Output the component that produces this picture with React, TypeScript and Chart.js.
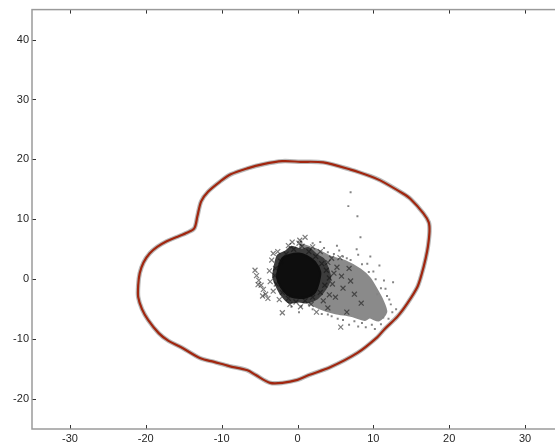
import React, { useEffect, useRef } from "react";
import { Chart, registerables } from "chart.js";
Chart.register(...registerables);

const xTicks = [-30, -20, -10, 0, 10, 20, 30];
const yTicks = [-20, -10, 0, 10, 20, 30, 40];

// closed outline (traced clockwise from the top)
const contourPoints: [number, number][] = [
  [0.4, 19.6], [3.4, 19.5], [7, 18.3], [9.6, 17.2], [10.9, 16.5], [13.9, 14.3], [14.9, 13.4],
  [16.6, 11], [17.3, 9.5], [17.4, 8], [17.2, 5.5], [16.9, 3.5], [16.4, 1.0], [15.8, -1.3],
  [14.5, -4], [13.2, -6.2], [11.5, -8.3], [10.5, -9.7], [7.9, -12.3], [4.3, -14.7], [1.5, -16],
  [0, -16.8], [-2, -17.3], [-3.6, -17.3], [-5.5, -16], [-6.6, -15.2], [-9, -14.5], [-11, -13.8],
  [-12.8, -13.2], [-15.4, -11.3], [-17, -10.3], [-18.3, -9], [-19.7, -6.8], [-20.5, -5],
  [-21, -3], [-21, -1], [-20.8, 1], [-20.3, 2.8], [-19.5, 4.3], [-18.5, 5.4], [-17.3, 6.3],
  [-16, 7.0], [-14.5, 7.8], [-13.6, 8.5], [-13.2, 10.5], [-12.7, 13], [-11.8, 14.6],
  [-10.2, 16.3], [-8.8, 17.5], [-6.6, 18.5], [-4.5, 19.2], [-2, 19.7], [0.4, 19.6],
];

// dense grey cloud outline
const greyCloud: [number, number][] = [
  [0.4, 5.9], [2.4, 5.0], [4.3, 3.8], [6.3, 3.0], [8.3, 1.6], [9.5, 0.2], [10.3, -1.4],
  [11.2, -3.5], [11.7, -5.5], [10.7, -6.9], [9.5, -6.4], [8.9, -6.8], [7, -6.1], [5, -5.7],
  [3, -4.9], [1.1, -3.6], [-0.3, -1.8], [0.4, 5.9],
];

// dark halo and black core outlines
const darkHalo: [number, number][] = [
  [-3.0, 2.3], [-2.6, 4.0], [-1.6, 4.6], [-0.8, 5.4], [0.6, 4.9], [1.4, 5.2], [2.6, 4.0],
  [3.4, 3.4], [4.0, 1.8], [4.3, 0.2], [3.7, -1.6], [2.6, -3.2], [1.2, -3.9], [0.2, -3.7],
  [-1.1, -3.9], [-1.9, -3.0], [-2.6, -1.6], [-3.2, 0.4], [-3.0, 2.3],
];
const blackCore: [number, number][] = [
  [-2.5, 2.0], [-2.0, 3.5], [-1.0, 4.1], [0.2, 4.3], [1.2, 3.9], [2.3, 2.9], [3.0, 1.2],
  [2.8, -0.6], [2.3, -2.2], [1.2, -3.0], [0.0, -3.1], [-1.3, -2.6], [-2.2, -1.3],
  [-2.7, 0.3], [-2.5, 2.0],
];

// scattered grey points
const greyPoints: [number, number][] = [
  [0.5, 6.3], [2, 6], [3.5, 5.2], [4.8, 4.2], [6, 3.8], [7, 3.2], [8.5, 2.5], [9.4, 1.2],
  [10.3, 0], [11, -1.5], [11.8, -2.8], [12.3, -4.2], [12.5, -5.5], [12, -6.6], [11, -7.5],
  [9.8, -7.6], [8.5, -7.3], [7.5, -7], [6, -6.8], [4.5, -6.2], [3.2, -5.8], [2, -5],
  [0.5, -4.5], [7, 14.5], [6.7, 12.2], [7.9, 10.5], [8.3, 7], [7.8, 5], [9.6, 3.8],
  [10.8, 2.3], [12.6, -0.5], [5.5, 4.8], [9, -8], [10.5, -2.5], [6.5, 3.5], [4, 4.5],
  [3, 6.2], [5.2, 5.6], [8, 4.1], [9.2, 2.6], [10, 1.3], [11.4, -0.2], [11.6, -1.6],
  [12.1, -3.4], [13, -5], [11.3, -6.4], [10.2, -8.3], [8, -7.9], [6.8, -7.6], [5.3, -6.6],
  [4, -5.9], [1.5, -4.3], [0.2, -5.5], [-0.8, -4.6],
];

// black cross markers
const crossPoints: [number, number][] = [
  [-2.2, 3], [-1.5, 4.2], [-0.5, 5], [0.6, 5.5], [1.5, 4.6], [2.4, 3.8], [3.2, 2.6],
  [3.8, 1.5], [4.2, 0.2], [3.6, -1], [3, -2.2], [2, -3], [1, -3.6], [-0.2, -3.8],
  [-1.2, -3.2], [-2, -2.2], [-2.8, -0.8], [-3, 0.6], [-2.9, 1.8], [-3.4, 3.2],
  [-2.6, 4.6], [-1.2, 5.6], [0.2, 6.0], [2.0, 5.4], [3.0, 4.6], [4.0, 2.8], [4.8, 1.0],
  [4.6, -0.8], [4.2, -2.6], [3.4, -3.6], [1.8, -4.2], [0.4, -4.6], [-1.0, -4.2],
  [-2.4, -3.4], [-3.2, -2.0], [-3.6, -0.4], [-3.7, 1.4], [-0.7, 6.2], [1, 7], [0.3, 6.5],
  [-3.2, 4.3], [4.5, 3.5], [5.2, 2], [5.8, 0.5], [6, -1.5], [5, -3], [4, -4.8],
  [7.5, -2.5], [8.4, -4], [-2, -5.6], [2.5, -5.5], [6.5, -5.5], [5.7, -8], [6.8, 1.8],
  [5.6, 3.6], [7, -0.3],
  [-5.6, 1.5], [-5.4, 0.6], [-5.1, -0.2], [-4.8, -1], [-4.5, -1.7], [-4.2, -2.5],
  [-3.9, -3.2], [-5.2, -0.9], [-4.6, -2.8],
];

const toXY = (a: [number, number][]) => a.map(([x, y]) => ({ x, y }));

const framePlugin = {
  id: "frame",
  afterDatasetsDraw(chart: any) {
    const { ctx, chartArea: a, scales } = chart;
    ctx.save();
    ctx.strokeStyle = "#333";
    ctx.lineWidth = 1;
    const tl = 4;
    ctx.beginPath();
    for (const v of xTicks) {
      const px = Math.round(scales.x.getPixelForValue(v)) + 0.5;
      ctx.moveTo(px, a.bottom);
      ctx.lineTo(px, a.bottom - tl);
      ctx.moveTo(px, a.top);
      ctx.lineTo(px, a.top + tl);
    }
    for (const v of yTicks) {
      const py = Math.round(scales.y.getPixelForValue(v)) + 0.5;
      ctx.moveTo(a.left, py);
      ctx.lineTo(a.left + tl, py);
      ctx.moveTo(a.right, py);
      ctx.lineTo(a.right - tl, py);
    }
    ctx.stroke();
    ctx.strokeStyle = "#9a9a9a";
    ctx.lineWidth = 1.5;
    ctx.strokeRect(a.left, a.top, a.right - a.left, a.bottom - a.top);
    ctx.restore();
  },
};

export default function App() {
  const ref = useRef<HTMLCanvasElement>(null);
  useEffect(() => {
    const chart = new Chart(ref.current!, {
      type: "scatter",
      data: {
        datasets: [
          {
            data: toXY(crossPoints),
            pointStyle: "crossRot",
            pointRadius: 3.5,
            borderColor: "rgba(15,15,15,0.55)",
            borderWidth: 1.2,
            order: 1,
          } as any,
          {
            data: toXY(blackCore),
            showLine: true,
            tension: 0.25,
            fill: "shape",
            backgroundColor: "#0e0e0e",
            borderColor: "#0e0e0e",
            borderWidth: 2,
            pointRadius: 0,
            order: 2,
          },
          {
            data: toXY(darkHalo),
            showLine: true,
            tension: 0.25,
            fill: "shape",
            backgroundColor: "#3c3c3c",
            borderColor: "#3c3c3c",
            borderWidth: 2,
            pointRadius: 0,
            order: 3,
          },
          {
            data: toXY(greyPoints),
            pointStyle: "rect",
            pointRadius: 1.4,
            backgroundColor: "#848484",
            borderColor: "#848484",
            borderWidth: 0,
            order: 4,
          },
          {
            data: toXY(greyCloud),
            showLine: true,
            tension: 0.25,
            fill: "shape",
            backgroundColor: "#8a8a8a",
            borderColor: "#8a8a8a",
            borderWidth: 2,
            pointRadius: 0,
            order: 5,
          },
          {
            data: toXY(contourPoints),
            showLine: true,
            tension: 0.3,
            borderColor: "#a1260f",
            borderWidth: 2.2,
            pointRadius: 0,
            order: 6,
          },
          {
            data: toXY(contourPoints),
            showLine: true,
            tension: 0.3,
            borderColor: "rgba(125,125,125,0.55)",
            borderWidth: 4.5,
            pointRadius: 0,
            order: 7,
          },
        ],
      },
      options: {
        responsive: false,
        animation: false,
        events: [],
        layout: { padding: { top: 9, right: 17, left: 0, bottom: 0 } },
        plugins: { legend: { display: false }, tooltip: { enabled: false } },
        scales: {
          x: {
            type: "linear",
            min: -35,
            max: 35,
            grid: { display: false, drawTicks: false },
            border: { display: false },
            afterBuildTicks: (s: any) => {
              s.ticks = xTicks.map((v) => ({ value: v }));
            },
            afterFit: (s: any) => {
              s.height = 19;
            },
            ticks: {
              padding: 3,
              color: "#262626",
              font: { family: "Liberation Sans", size: 11 },
              maxRotation: 0,
            },
          },
          y: {
            type: "linear",
            min: -25,
            max: 45,
            grid: { display: false, drawTicks: false },
            border: { display: false },
            afterBuildTicks: (s: any) => {
              s.ticks = yTicks.map((v) => ({ value: v }));
            },
            afterFit: (s: any) => {
              s.width = 32;
            },
            ticks: {
              padding: 3,
              color: "#262626",
              font: { family: "Liberation Sans", size: 11 },
            },
          },
        },
      },
      plugins: [framePlugin],
    });
    return () => chart.destroy();
  }, []);
  return (
    <div
      style={{
        position: "fixed",
        left: 0,
        top: 0,
        width: 555,
        height: 448,
        overflow: "hidden",
        background: "#fff",
      }}
    >
      <canvas ref={ref} width={580} height={448} style={{ display: "block" }} />
    </div>
  );
}
